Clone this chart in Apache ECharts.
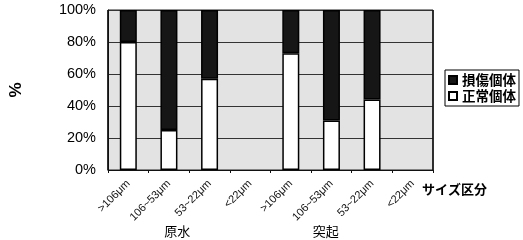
<!DOCTYPE html>
<html>
<head>
<meta charset="utf-8">
<script src="https://cdn.jsdelivr.net/npm/echarts@6/dist/echarts.min.js"></script>
<style>
html,body{margin:0;padding:0;background:#fff;}
#chart{width:523px;height:240px;}
</style>
</head>
<body>
<div id="chart"></div>
<script>
var sizeLabels = ['>106μm', '106~53μm', '53~22μm', '<22μm', '>106μm', '106~53μm', '53~22μm', '<22μm'];
var groupLabels = ['原水', '突起'];
var normalValues = [80, 25, 57, null, 73, 31, 44, null];
var damagedValues = [20, 75, 43, null, 27, 69, 56, null];
var yTicks = [0, 20, 40, 60, 80, 100];

var FONT = "'Liberation Sans', 'Noto Sans CJK JP', sans-serif";
var JFONT = "'Noto Sans CJK JP', sans-serif";

var chart = echarts.init(document.getElementById('chart'), null, {renderer: 'canvas'});
chart.setOption({
  animation: false,
  backgroundColor: '#ffffff',
  textStyle: {fontFamily: FONT},
  grid: {
    left: 92, right: 90, top: 10, bottom: 70,
    show: true, backgroundColor: '#e3e3e3', borderColor: '#222', borderWidth: 1
  },
  legend: {
    orient: 'vertical', left: 445, top: 70,
    data: ['損傷個体', '正常個体'],
    icon: 'rect', itemWidth: 8, itemHeight: 8, itemGap: 2,
    padding: [3, 3, 3, 3],
    backgroundColor: '#fff', borderColor: '#000', borderWidth: 1,
    textStyle: {fontFamily: JFONT, fontSize: 13.5, fontWeight: 'bold', color: '#000', lineHeight: 14}
  },
  xAxis: [{
    type: 'category', data: sizeLabels, position: 'bottom',
    axisLine: {lineStyle: {color: '#111', width: 1}},
    axisTick: {show: true, length: 3, lineStyle: {color: '#111'}},
    axisLabel: {rotate: 45, fontSize: 11, color: '#111', margin: 12, interval: 0, fontFamily: FONT},
    splitLine: {show: true, interval: function (i) { return i === 4; }, lineStyle: {color: '#111', width: 1.5}},
    name: 'サイズ区分', nameLocation: 'end', nameGap: -11,
    nameTextStyle: {fontFamily: JFONT, fontSize: 13, fontWeight: 'bold', color: '#000', verticalAlign: 'top', align: 'left', padding: [13, 0, 0, 0]}
  }, {
    type: 'category', data: groupLabels, position: 'bottom',
    axisLine: {show: false}, axisTick: {show: false},
    axisLabel: {
      margin: 55, fontSize: 13, color: '#000', fontFamily: JFONT,
      formatter: function (v, i) { return i === 0 ? '{a|' + v + '}' : '{b|' + v + '}'; },
      rich: {
        a: {fontSize: 13, fontFamily: JFONT, color: '#000', padding: [0, 24, 0, 0]},
        b: {fontSize: 13, fontFamily: JFONT, color: '#000', padding: [0, 52, 0, 0]}
      }
    }
  }],
  yAxis: {
    type: 'value', min: yTicks[0], max: yTicks[yTicks.length - 1], interval: 20,
    axisLine: {show: true, lineStyle: {color: '#111'}},
    axisTick: {show: false},
    axisLabel: {formatter: '{value}%', fontSize: 14.5, color: '#000', margin: 12, fontFamily: FONT},
    splitLine: {lineStyle: {color: '#333', width: 1}},
    name: '%', nameLocation: 'middle', nameGap: 83, nameRotate: 90,
    nameTextStyle: {fontSize: 17, fontWeight: 'bold', color: '#000', fontFamily: FONT}
  },
  series: [{
    name: '正常個体', type: 'bar', stack: 'all', data: normalValues, barWidth: 17,
    itemStyle: {color: '#ffffff', borderColor: '#000', borderWidth: 1.5}
  }, {
    name: '損傷個体', type: 'bar', stack: 'all', data: damagedValues, barWidth: 17,
    itemStyle: {color: '#161616', borderColor: '#000', borderWidth: 1.5}
  }]
});
</script>
</body>
</html>
